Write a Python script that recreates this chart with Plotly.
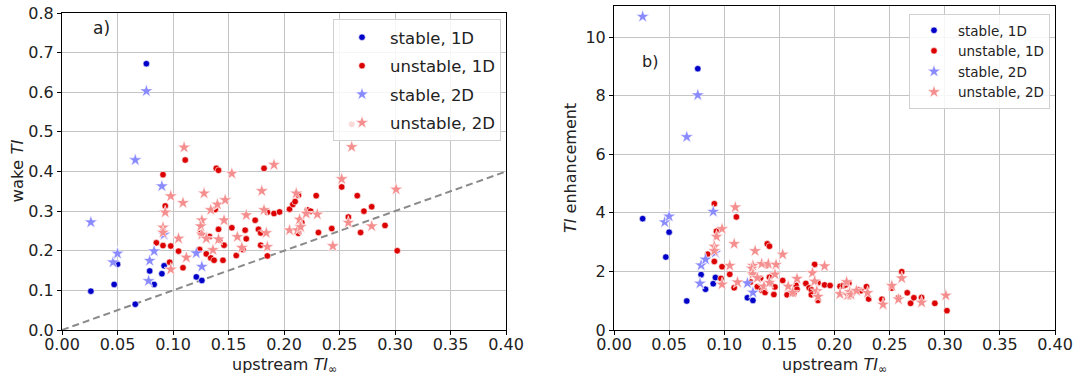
import plotly.graph_objects as go

# ---------------- data ----------------
# stable, 1D
s1_up   = [0.026, 0.047, 0.050, 0.066, 0.076, 0.079, 0.083, 0.090, 0.092, 0.121, 0.126]
s1_wake = [0.098, 0.115, 0.166, 0.065, 0.672, 0.149, 0.115, 0.142, 0.162, 0.134, 0.125]
s1_enh  = [3.80, 2.49, 3.34, 0.99, 8.92, 1.89, 1.39, 1.58, 1.79, 1.10, 1.01]

# unstable, 1D
u1_up = [0.091, 0.093, 0.085, 0.091, 0.098, 0.097, 0.105, 0.109, 0.111, 0.124,
         0.125, 0.130, 0.133, 0.134, 0.137, 0.138, 0.139, 0.141, 0.141, 0.142,
         0.146, 0.145, 0.153, 0.157, 0.163, 0.165, 0.166, 0.174, 0.177, 0.179,
         0.179, 0.182, 0.185, 0.185, 0.191, 0.196, 0.205, 0.208, 0.210, 0.213,
         0.213, 0.216, 0.221, 0.224, 0.229, 0.231, 0.243, 0.252, 0.258, 0.261,
         0.266, 0.272, 0.269, 0.279, 0.291, 0.302]
u1_wake = [0.392, 0.313, 0.220, 0.213, 0.212, 0.171, 0.199, 0.157, 0.429, 0.203,
           0.244, 0.192, 0.236, 0.182, 0.176, 0.304, 0.408, 0.403, 0.254, 0.227,
           0.214, 0.176, 0.258, 0.188, 0.203, 0.252, 0.230, 0.277, 0.254, 0.245,
           0.214, 0.408, 0.187, 0.297, 0.294, 0.298, 0.305, 0.317, 0.324, 0.340,
           0.244, 0.271, 0.303, 0.300, 0.339, 0.246, 0.256, 0.361, 0.285, 0.519,
           0.339, 0.300, 0.246, 0.311, 0.264, 0.200]
u1_enh = [4.31, 3.37, 2.59, 2.34, 2.16, 1.76, 1.90, 1.44, 3.86, 1.64,
          1.95, 1.48, 1.77, 1.36, 1.28, 2.20, 2.94, 2.86, 1.80, 1.60,
          1.47, 1.21, 1.69, 1.20, 1.25, 1.53, 1.39, 1.59, 1.44, 1.37,
          1.20, 2.24, 1.01, 1.61, 1.54, 1.52, 1.49, 1.52, 1.54, 1.60,
          1.15, 1.25, 1.37, 1.34, 1.48, 1.06, 1.05, 1.43, 1.10, 1.99,
          1.27, 1.10, 0.91, 1.11, 0.91, 0.66]

# stable, 2D
s2_up   = [0.026, 0.046, 0.050, 0.066, 0.076, 0.078, 0.079, 0.083, 0.090, 0.092, 0.121, 0.126]
s2_wake = [0.272, 0.171, 0.193, 0.429, 0.603, 0.124, 0.175, 0.199, 0.363, 0.241, 0.194, 0.160]
s2_enh  = [10.7, 3.68, 3.88, 6.59, 8.02, 1.59, 2.21, 2.41, 4.04, 2.64, 1.60, 1.28]

# unstable, 2D
u2_up = [0.110, 0.109, 0.098, 0.093, 0.091, 0.091, 0.098, 0.105, 0.112, 0.128,
         0.126, 0.125, 0.126, 0.130, 0.134, 0.136, 0.140, 0.141, 0.147, 0.146,
         0.153, 0.158, 0.162, 0.166, 0.180, 0.182, 0.184, 0.185, 0.191, 0.205,
         0.211, 0.212, 0.214, 0.215, 0.220, 0.230, 0.244, 0.252, 0.258, 0.261,
         0.279, 0.301]
u2_wake = [0.461, 0.321, 0.338, 0.297, 0.259, 0.246, 0.153, 0.231, 0.183, 0.345,
           0.277, 0.262, 0.241, 0.231, 0.303, 0.202, 0.317, 0.229, 0.328, 0.277,
           0.395, 0.235, 0.208, 0.290, 0.351, 0.303, 0.245, 0.210, 0.417, 0.252,
           0.345, 0.252, 0.279, 0.260, 0.294, 0.292, 0.212, 0.381, 0.271, 0.462,
           0.262, 0.355]
u2_enh = [4.19, 2.94, 3.45, 3.19, 2.85, 2.70, 1.56, 2.20, 1.63, 2.70,
          2.20, 2.10, 1.91, 1.78, 2.26, 1.49, 2.26, 1.62, 2.23, 1.90,
          2.58, 1.49, 1.28, 1.75, 1.95, 1.66, 1.33, 1.14, 2.18, 1.23,
          1.64, 1.19, 1.30, 1.21, 1.34, 1.27, 0.87, 1.51, 1.05, 1.77,
          0.94, 1.18]

ref_line_x = [0.0, 0.4]
ref_line_y = [0.0, 0.4]

series = [
    ("stable, 1D",   s1_up, s1_wake, s1_enh, "circle", 6.5, "#0000c8"),
    ("unstable, 1D", u1_up, u1_wake, u1_enh, "circle", 6.5, "#dc0000"),
    ("stable, 2D",   s2_up, s2_wake, s2_enh, "star",   10,  "#8a8aff"),
    ("unstable, 2D", u2_up, u2_wake, u2_enh, "star",   10,  "#f58e8e"),
]

FONT = "DejaVu Sans"
TXT = "#222222"
FW, FH = 1073, 380


def px_x(p):
    return p / FW


def px_y(p):  # pixel from top -> paper fraction from bottom
    return 1 - p / FH


# plot boxes in pixels (page coordinates)
L_X0, L_X1, L_Y0, L_Y1 = 62, 506, 13, 330
R_X0, R_X1, R_Y0, R_Y1 = 614, 1055, 6, 330

fig = go.Figure()

fig.add_trace(go.Scatter(x=ref_line_x, y=ref_line_y, mode="lines",
                         line=dict(color="#8a8a8a", width=2, dash="7px,4px"),
                         showlegend=False, hoverinfo="skip",
                         xaxis="x", yaxis="y"))

for i, (name, up, wake, enh, sym, size, col) in enumerate(series):
    fig.add_trace(go.Scatter(x=up, y=wake, mode="markers", name=name,
                             legendgroup="a%d" % i,
                             marker=dict(symbol=sym, size=size, color=col,
                                         line=dict(color="white", width=0.6)),
                             xaxis="x", yaxis="y", legend="legend"))
for i, (name, up, wake, enh, sym, size, col) in enumerate(series):
    fig.add_trace(go.Scatter(x=up, y=enh, mode="markers", name=name,
                             legendgroup="b%d" % i,
                             marker=dict(symbol=sym, size=size, color=col,
                                         line=dict(color="white", width=0.6)),
                             xaxis="x2", yaxis="y2", legend="legend2"))

axis_common = dict(showline=True, linecolor="black", linewidth=1, mirror=True,
                   ticks="outside", ticklen=4, tickcolor="black",
                   showgrid=True, gridcolor="#c4c4c4", gridwidth=1,
                   zeroline=False, automargin=False, ticklabeloverflow="allow",
                   tickfont=dict(family=FONT, size=16, color=TXT))

fig.update_layout(
    width=FW, height=FH,
    margin=dict(l=0, r=0, t=0, b=0),
    paper_bgcolor="white", plot_bgcolor="white",
    font=dict(family=FONT, color=TXT),
    xaxis=dict(domain=[px_x(L_X0), px_x(L_X1)], range=[0, 0.4], dtick=0.05,
               tickformat=".2f", anchor="y", ticklabelstandoff=-4, **axis_common),
    yaxis=dict(domain=[px_y(L_Y1), px_y(L_Y0)], range=[0, 0.8], dtick=0.1,
               tickformat=".1f", anchor="x", **axis_common),
    xaxis2=dict(domain=[px_x(R_X0), px_x(R_X1)], range=[0, 0.4], dtick=0.05,
                tickformat=".2f", anchor="y2", ticklabelstandoff=-4, **axis_common),
    yaxis2=dict(domain=[px_y(R_Y1), px_y(R_Y0)], range=[0, 11.06], dtick=2,
                anchor="x2", **axis_common),
    legend=dict(x=px_x(501), y=px_y(19), xanchor="right", yanchor="top",
                bgcolor="rgba(255,255,255,0.85)", bordercolor="#d0d0d0", borderwidth=1,
                font=dict(family=FONT, size=16.5, color=TXT), tracegroupgap=4,
                itemwidth=46),
    legend2=dict(x=px_x(1050), y=px_y(14), xanchor="right", yanchor="top",
                 bgcolor="rgba(255,255,255,0.85)", bordercolor="#d0d0d0", borderwidth=1,
                 font=dict(family=FONT, size=13.5, color=TXT), tracegroupgap=0,
                 itemwidth=38),
    annotations=[
        dict(text="a)", x=0.0354, y=0.762, xref="x", yref="y", showarrow=False,
             font=dict(family=FONT, size=17, color=TXT)),
        dict(text="b)", x=0.0322, y=9.16, xref="x2", yref="y2", showarrow=False,
             font=dict(family=FONT, size=16, color=TXT)),
        # axis titles
        dict(text="upstream <i>TI</i><sub>∞</sub>", xref="paper", yref="paper",
             x=px_x((L_X0 + L_X1) / 2), y=px_y(365), xanchor="center", yanchor="middle",
             showarrow=False, font=dict(family=FONT, size=16, color=TXT)),
        dict(text="upstream <i>TI</i><sub>∞</sub>", xref="paper", yref="paper",
             x=px_x((R_X0 + R_X1) / 2), y=px_y(365), xanchor="center", yanchor="middle",
             showarrow=False, font=dict(family=FONT, size=16, color=TXT)),
        dict(text="wake <i>TI</i>", xref="paper", yref="paper", textangle=-90,
             x=px_x(17), y=px_y((L_Y0 + L_Y1) / 2), xanchor="center", yanchor="middle",
             showarrow=False, font=dict(family=FONT, size=16.5, color=TXT)),
        dict(text="<i>TI</i> enhancement", xref="paper", yref="paper", textangle=-90,
             x=px_x(570), y=px_y((R_Y0 + R_Y1) / 2), xanchor="center", yanchor="middle",
             showarrow=False, font=dict(family=FONT, size=16, color=TXT)),
    ],
)

fig.write_html("out.html", config={"displayModeBar": False},
               post_script="document.body.style.margin='0';")
